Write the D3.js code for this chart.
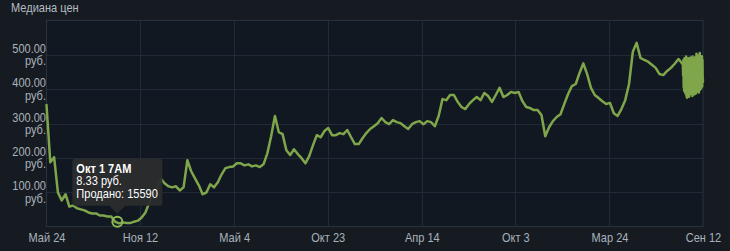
<!DOCTYPE html>
<html><head><meta charset="utf-8">
<script src="https://cdn.jsdelivr.net/npm/d3@7"></script>
<style>
html,body{margin:0;padding:0;background:#161b22;}
svg{display:block;font-family:Arial,"Liberation Sans",sans-serif;}
</style></head><body>
<svg id="chart" width="730" height="251"></svg>
<script>
const chartTitle = "Медиана цен";
const tickDates = ["2021-05-24","2021-11-12","2022-05-04","2022-10-23","2023-04-14","2023-10-03","2024-03-24","2024-09-12"];
const tickLabels = ["Май 24","Ноя 12","Май 4","Окт 23","Апр 14","Окт 3","Мар 24","Сен 12"];
const yTicks = [100,200,300,400,500];
const yUnit = "руб.";
// weekly medians starting 2021-05-24
const weeklyStart = "2021-05-24";
const weeklyMedian = [
 354,187,202,99,76,94,58,61,53,50,
 47,41,38,38,32,32,29,29,14,9,
 12,10,10,14,17,26,41,70,90,105,
 140,126,117,114,117,105,114,193,161,140,
 120,94,99,123,114,129,152,170,173,175,
 184,184,178,181,175,178,173,181,213,263,
 322,275,269,222,208,225,211,199,184,205,
 237,266,260,278,287,266,266,272,269,281,
 260,240,240,257,272,284,292,301,316,304,
 298,310,304,301,292,284,298,304,307,298,
 307,304,292,322,371,368,383,383,363,348,
 342,357,368,377,368,389,380,363,383,404,
 377,383,392,389,392,365,348,345,339,339,
 325,263,289,307,319,327,357,386,409,415,
 447,475,444,404,383,374,365,357,360,330,
 322,342,368,415,509,535,491,485,480,471,
 462,444,441,453,462,474,488,474
];
// 12-hourly medians for the last month, starting 2024-08-06
const recentStart = "2024-08-06";
const recentMedian = [
 470,440,485,405,460,395,490,410,475,388,
 480,400,495,380,470,375,485,392,478,384,
 490,400,466,378,488,395,480,410,492,386,
 474,398,486,404,470,380,495,390,482,402,
 476,396,489,385,470,408,494,399,480,388,
 503,405,477,394,486,412,498,400,472,390,
 488,406,505,398,480,410,492,402,476,415,
 496,408,485,420,427
];
const tipDate = "2021-10-01T07:00";
const tipValue = 8.33;
const tipLines = ["Окт 1 7AM","8.33 руб.","Продано: 15590"];

const W = 730, H = 251;
const plot = {left:46.5, right:703, top:20.5, bottom:226.5};
const parse = d3.timeParse("%Y-%m-%d");
const parseT = d3.timeParse("%Y-%m-%dT%H:%M");

const series = [];
weeklyMedian.forEach((v,i)=>series.push({date:d3.timeDay.offset(parse(weeklyStart),7*i), value:v}));
recentMedian.forEach((v,i)=>series.push({date:d3.timeHour.offset(parse(recentStart),12*i), value:v}));

const x = d3.scaleTime()
  .domain([parse(tickDates[0]), parse(tickDates[tickDates.length-1])])
  .range([plot.left, plot.right]);
const y = d3.scaleLinear().domain([0,600]).range([plot.bottom, plot.top]);

const svg = d3.select("#chart");
svg.append("rect").attr("width",W).attr("height",H).attr("fill","#161b22");
svg.append("rect").attr("x",plot.left).attr("y",plot.top)
  .attr("width",plot.right-plot.left).attr("height",plot.bottom-plot.top)
  .attr("fill","#111821");

const gridColor = "#212b38";
svg.append("g").selectAll("line").data(yTicks).join("line")
  .attr("x1",plot.left).attr("x2",plot.right)
  .attr("y1",d=>Math.round(y(d))+0.5).attr("y2",d=>Math.round(y(d))+0.5)
  .attr("stroke",gridColor).attr("stroke-width",1);
svg.append("g").selectAll("line").data(tickDates.slice(1,-1).map(parse)).join("line")
  .attr("y1",plot.top).attr("y2",plot.bottom)
  .attr("x1",d=>Math.round(x(d))+0.5).attr("x2",d=>Math.round(x(d))+0.5)
  .attr("stroke",gridColor).attr("stroke-width",1);
svg.append("rect").attr("x",plot.left).attr("y",plot.top)
  .attr("width",plot.right-plot.left).attr("height",plot.bottom-plot.top)
  .attr("fill","none").attr("stroke","#27323f").attr("stroke-width",1);

// title
svg.append("text").attr("x",11).attr("y",12)
  .attr("transform","translate(11,0) scale(0.92,1) translate(-11,0)")
  .attr("font-size",12).attr("fill","#b4bac0").text(chartTitle);

const textColor = "#a9b2bb";
// x axis
const xAxis = d3.axisBottom(x)
  .tickValues(tickDates.map(parse))
  .tickFormat((d,i)=>tickLabels[i])
  .tickSize(0).tickPadding(7);
const gx = svg.append("g").attr("transform",`translate(0,${plot.bottom})`).call(xAxis);
gx.select(".domain").remove();
gx.selectAll("text").attr("font-size",12).attr("fill",textColor)
  .attr("font-family","Arial, 'Liberation Sans', sans-serif")
  .attr("transform","scale(0.92,1)");

// y axis
const yAxis = d3.axisLeft(y).tickValues(yTicks).tickSize(0).tickPadding(0)
  .tickFormat(d=>d3.format(".2f")(d));
const gy = svg.append("g").attr("transform",`translate(${plot.left-0.5},0)`).call(yAxis);
gy.select(".domain").remove();
gy.selectAll("text").each(function(d){
  const t = d3.select(this);
  t.attr("dy",null).text(null)
   .attr("font-size",12).attr("fill",textColor)
   .attr("font-family","Arial, 'Liberation Sans', sans-serif")
   .attr("transform","scale(0.92,1)");
  t.append("tspan").attr("x",0).attr("y",-2.5).text(d3.format(".2f")(d));
  t.append("tspan").attr("x",0).attr("y",10).text(yUnit);
});

// line
const lineColor = "#7fa64b";
svg.append("path").datum(series)
  .attr("d", d3.line().x(d=>x(d.date)).y(d=>y(d.value)))
  .attr("fill","none").attr("stroke",lineColor).attr("stroke-width",2.5)
  .attr("stroke-linejoin","round").attr("stroke-linecap","round");

// highlight + tooltip
const px = x(parseT(tipDate)), py = y(tipValue);
svg.append("circle").attr("cx",px).attr("cy",py-2).attr("r",5)
  .attr("fill","none").attr("stroke","#8dba55").attr("stroke-width",2);
const bw = 90, bh = 47;
const bx = px - 45, by = py - 18 - bh;
const tip = svg.append("g");
tip.append("path")
  .attr("d",`M${bx+3},${by} H${bx+bw-3} Q${bx+bw},${by} ${bx+bw},${by+3} V${by+bh-3} Q${bx+bw},${by+bh} ${bx+bw-3},${by+bh} H${px+8} L${px},${by+bh+8} L${px-8},${by+bh} H${bx+3} Q${bx},${by+bh} ${bx},${by+bh-3} V${by+3} Q${bx},${by} ${bx+3},${by} Z`)
  .attr("fill","#2b2c2e").attr("fill-opacity",0.96);
tip.selectAll("text").data(tipLines).join("text")
  .attr("x",bx+4).attr("y",(d,i)=>by+14+i*12.5)
  .attr("transform",`translate(${bx+4},0) scale(0.92,1) translate(${-(bx+4)},0)`)
  .attr("font-size",12).attr("fill","#ffffff")
  .attr("font-weight",(d,i)=>i===0?"bold":"normal")
  .text(d=>d);
</script>
</body></html>
